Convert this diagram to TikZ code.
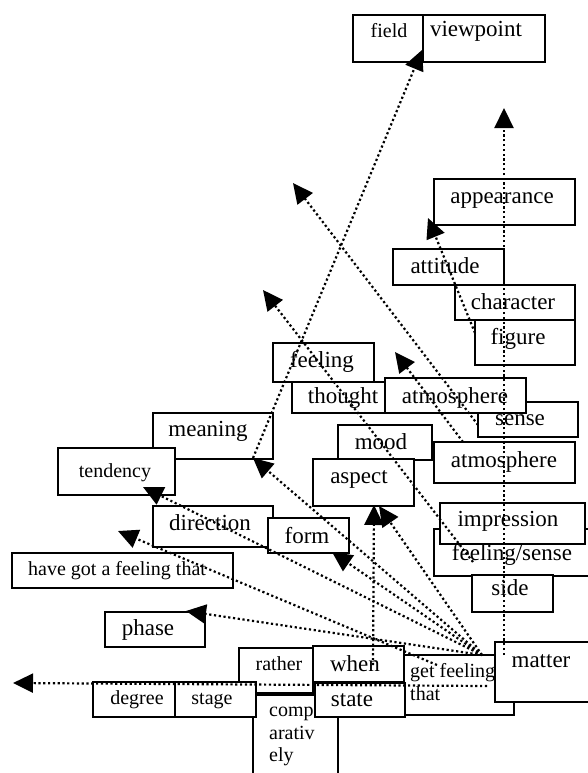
\documentclass[tikz,border=0pt]{standalone}
\usepackage{fontspec}
\setmainfont{Liberation Serif}
\usetikzlibrary{arrows.meta}
\tikzset{
  bx/.style={draw, line width=1.3pt, fill=white, inner sep=0pt, outer sep=0pt, anchor=north west},
  big/.style={font=\fontsize{23}{26}\selectfont, inner sep=0pt, anchor=base},
  sml/.style={font=\fontsize{20}{23}\selectfont, inner sep=0pt, anchor=base},
  arr/.style={line width=2.2pt, dash pattern=on 2.2pt off 2.6pt, -{Triangle[length=20pt,width=19pt]}}
}
\begin{document}
\begin{tikzpicture}[x=1pt,y=-1pt]
\useasboundingbox (0,0) rectangle (587,773);
% boxes
\node[bx,minimum width=70pt,minimum height=47pt] (bField) at (353,15) {};
\node[bx,minimum width=122pt,minimum height=47pt] (bView) at (423,15) {};
\node[bx,minimum width=141pt,minimum height=46pt] (bApp) at (434,179) {};
\node[bx,minimum width=111pt,minimum height=36pt] (bAtt) at (393,249) {};
\node[bx,minimum width=120pt,minimum height=35pt] (bChar) at (455,285) {};
\node[bx,minimum width=100pt,minimum height=45pt] (bFig) at (475,320) {};
\node[bx,minimum width=101pt,minimum height=39pt] (bFeel) at (273,343) {};
\node[bx,minimum width=93pt,minimum height=31pt] (bThought) at (292,382) {};
\node[bx,minimum width=100pt,minimum height=35pt] (bSense) at (478,402) {};
\node[bx,minimum width=141pt,minimum height=35pt] (bAtmA) at (385,378) {};
\node[bx,minimum width=94pt,minimum height=35pt] (bMood) at (338,425) {};
\node[bx,minimum width=101pt,minimum height=47pt] (bAspect) at (313,459) {};
\node[bx,minimum width=141pt,minimum height=41pt] (bAtmB) at (434,442) {};
\node[bx,minimum width=161pt,minimum height=47pt] (bFS) at (434,529) {};
\node[bx,minimum width=145pt,minimum height=41pt] (bImp) at (440,503) {};
\node[bx,minimum width=81pt,minimum height=37pt] (bSide) at (472,575) {};
\node[bx,minimum width=120pt,minimum height=46pt] (bMeaning) at (153,413) {};
\node[bx,minimum width=117pt,minimum height=47pt] (bTend) at (58,448) {};
\node[bx,minimum width=120pt,minimum height=41pt] (bDir) at (153,506) {};
\node[bx,minimum width=81pt,minimum height=35pt] (bForm) at (268,518) {};
\node[bx,minimum width=221pt,minimum height=35pt] (bHave) at (12,553) {};
\node[bx,minimum width=100pt,minimum height=35pt] (bPhase) at (105,612) {};
\node[bx,minimum width=110pt,minimum height=60pt] (bGet) at (404,655) {};
\node[bx,minimum width=100pt,minimum height=60pt] (bMatter) at (495,642) {};
\node[bx,minimum width=74pt,minimum height=45pt] (bRather) at (239,648) {};
\node[bx,minimum width=91pt,minimum height=36pt] (bWhen) at (313,646) {};
\node[bx,minimum width=85pt,minimum height=90pt] (bComp) at (253,695) {};
\node[bx,minimum width=90pt,minimum height=34pt] (bState) at (315,683) {};
\node[bx,minimum width=82pt,minimum height=35pt] (bDegree) at (93,682) {};
\node[bx,minimum width=81pt,minimum height=35pt] (bStage) at (175,682) {};
% texts
\node[sml] (tField) at (389,38) {field};
\node[big] (tView) at (476,37) {viewpoint};
\node[big] (tApp) at (502,203) {appearance};
\node[big] (tAtt) at (445,273) {attitude};
\node[big] (tChar) at (513,309) {character};
\node[big] (tFig) at (518,344) {figure};
\node[big] (tFeel) at (322,367) {feeling};
\node[big] (tThought) at (343,403) {thought};
\node[big] (tAtmA) at (455,403) {atmosphere};
\node[big] (tSense) at (520,425) {sense};
\node[big] (tMood) at (381,449) {mood};
\node[big] (tAspect) at (359,483) {aspect};
\node[big] (tAtmB) at (504,467) {atmosphere};
\node[big] (tImp) at (508,526) {impression};
\node[big] (tFS) at (512,560) {feeling/sense};
\node[big] (tSide) at (510,595) {side};
\node[big] (tMatter) at (541,667) {matter};
\node[big] (tMeaning) at (208,436) {meaning};
\node[sml] (tTend) at (115,477) {tendency};
\node[big] (tDir) at (210,530) {direction};
\node[big] (tForm) at (307,543) {form};
\node[sml,anchor=base west] (tHave) at (28,575) {have got a feeling that};
\node[big] (tPhase) at (148,635) {phase};
\node[sml] (tDegree) at (137,704) {degree};
\node[sml] (tStage) at (212,704) {stage};
\node[sml] (tRather) at (279,670) {rather};
\node[big] (tWhen) at (355,671) {when};
\node[big] (tState) at (352,706) {state};
\node[sml,anchor=base west] (tGet) at (410,677) {get feeling};
\node[sml,anchor=base west] (tThat) at (410,700) {that};
\node[sml,anchor=base west] (tC1) at (269,716) {comp};
\node[sml,anchor=base west] (tC2) at (269,739) {arativ};
\node[sml,anchor=base west] (tC3) at (269,761) {ely};
% connector endpoints
\coordinate (S) at (482,655);
\coordinate (pMeaning) at (253,458);
\coordinate (pTend) at (143,487);
\coordinate (pGet) at (437,665);
\coordinate (pHave) at (118,531);
\coordinate (pPhase) at (186,611);
\coordinate (pForm) at (332,552);
\coordinate (pAspect) at (379,506);
\coordinate (pLeftS) at (487,686);
\coordinate (pLeft) at (13,683);
\coordinate (pWhen) at (373,665);
\coordinate (pAspV) at (374,505);
\coordinate (pMat) at (504,655);
\coordinate (pTop) at (504,108);
\coordinate (pField) at (422,50);
\coordinate (pSense) at (478,425);
\coordinate (pA) at (293,183);
\coordinate (pFS) at (473,562);
\coordinate (pB) at (263,290);
\coordinate (pAtmB) at (463,442);
\coordinate (pC) at (395,352);
\coordinate (pFig) at (475,333);
\coordinate (pApp) at (428,218);
% connectors
\draw[arr] (S) -- (pMeaning);
\draw[arr] (S) -- (pTend);
\draw[arr] (pGet) -- (pHave);
\draw[arr] (S) -- (pPhase);
\draw[arr] (S) -- (pForm);
\draw[arr] (S) -- (pAspect);
\draw[arr] (pLeftS) -- (pLeft);
\draw[arr] (pWhen) -- (pAspV);
\draw[arr] (pMat) -- (pTop);
\draw[arr] (pMeaning) -- (pField);
\draw[arr] (pSense) -- (pA);
\draw[arr] (pFS) -- (pB);
\draw[arr] (pAtmB) -- (pC);
\draw[arr] (pFig) -- (pApp);
\end{tikzpicture}
\end{document}
